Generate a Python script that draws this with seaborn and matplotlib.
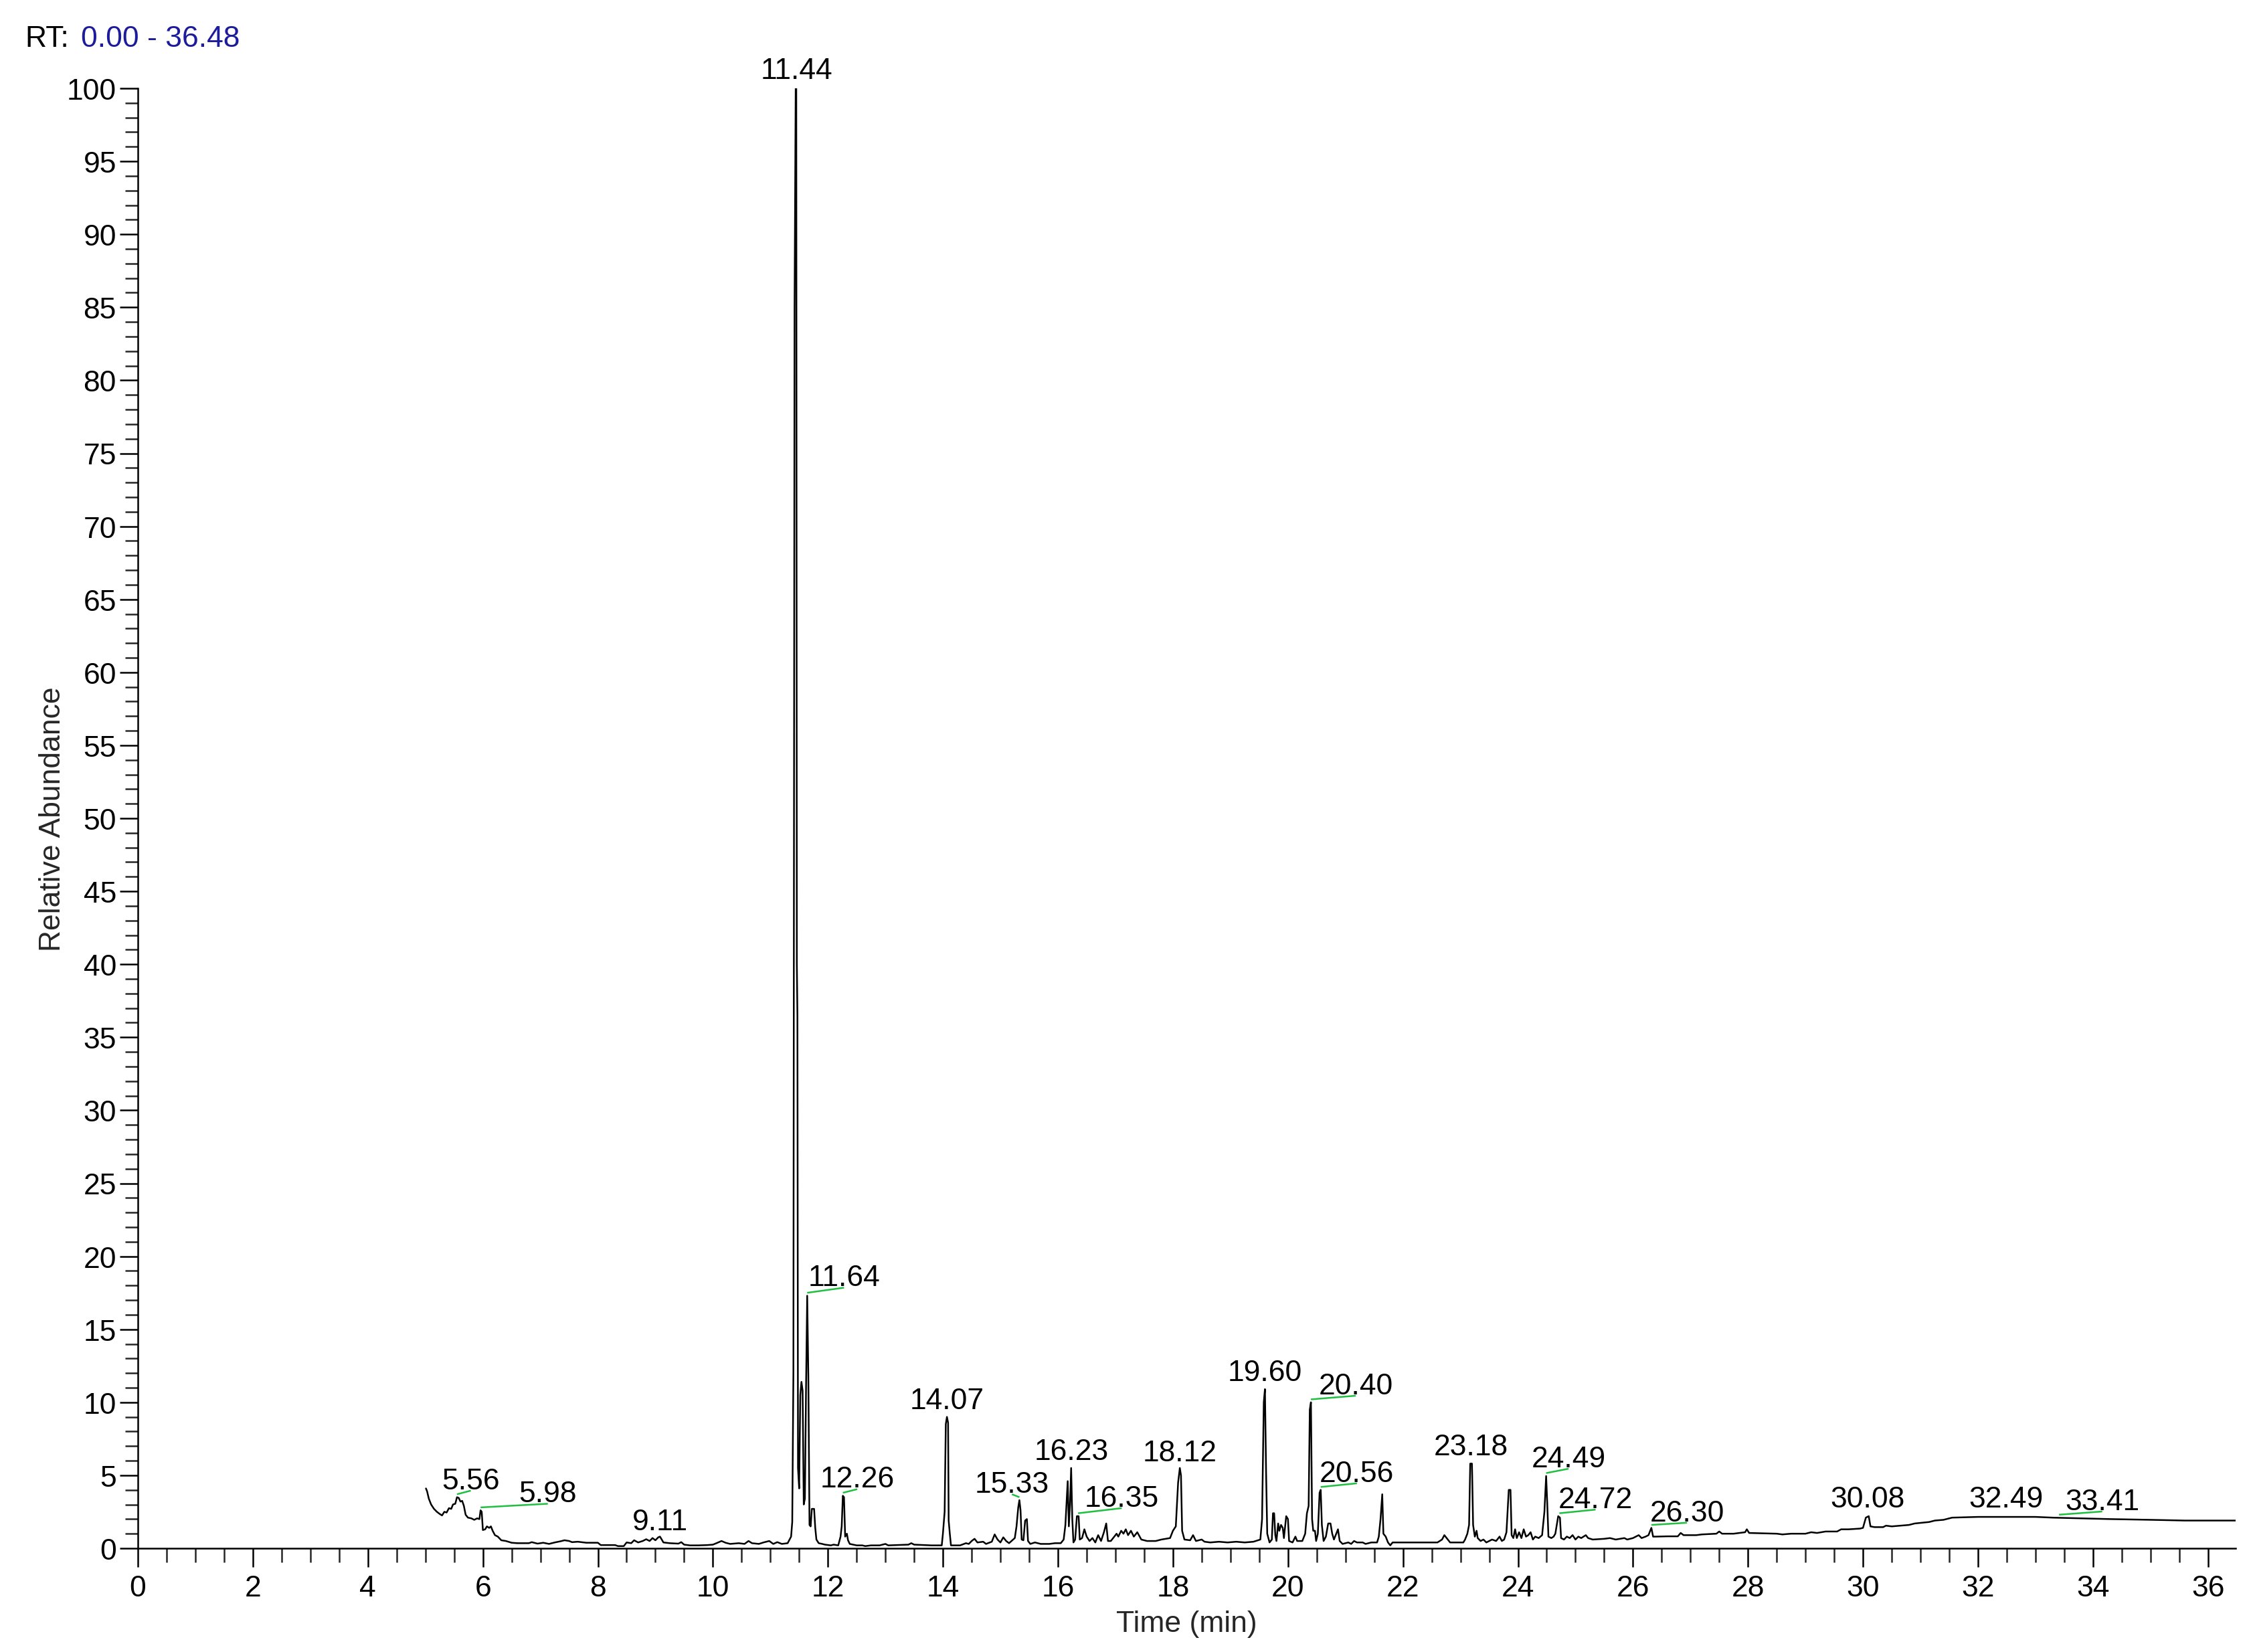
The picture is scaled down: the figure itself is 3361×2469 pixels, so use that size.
import matplotlib
matplotlib.use('Agg')
import matplotlib.pyplot as plt
from matplotlib.ticker import MultipleLocator
import pandas as pd
import seaborn as sns

#===== data =====
rt_min = [
    5.01, 5.03, 5.06, 5.10, 5.15, 5.20, 5.25, 5.29, 5.33, 5.37, 5.41, 5.45, 5.48, 5.52,
    5.55, 5.58, 5.61, 5.64, 5.67, 5.70, 5.74, 5.80, 5.85, 5.90, 5.94, 5.96, 5.98, 6.00,
    6.04, 6.07, 6.11, 6.14, 6.17, 6.21, 6.26, 6.32, 6.40, 6.50, 6.60, 6.80, 6.85, 6.95,
    7.05, 7.15, 7.25, 7.35, 7.42, 7.50, 7.55, 7.65, 7.80, 8.00, 8.05, 8.30, 8.35, 8.45,
    8.50, 8.58, 8.63, 8.70, 8.78, 8.84, 8.90, 8.95, 9.00, 9.05, 9.08, 9.11, 9.14, 9.25,
    9.40, 9.45, 9.50, 9.60, 9.75, 9.90, 10.00, 10.08, 10.15, 10.22, 10.30, 10.45, 10.55,
    10.62, 10.68, 10.80, 10.88, 10.98, 11.05, 11.12, 11.20, 11.30, 11.36, 11.38, 11.40,
    11.42, 11.44, 11.45, 11.46, 11.47, 11.48, 11.50, 11.52, 11.54, 11.56, 11.58, 11.60,
    11.62, 11.64, 11.66, 11.68, 11.70, 11.72, 11.76, 11.78, 11.80, 11.84, 11.90, 11.95,
    12.05, 12.10, 12.18, 12.22, 12.24, 12.26, 12.28, 12.30, 12.33, 12.35, 12.38, 12.50,
    12.60, 12.65, 12.75, 12.90, 13.00, 13.05, 13.40, 13.45, 13.50, 13.80, 13.98, 14.00,
    14.03, 14.05, 14.07, 14.09, 14.10, 14.12, 14.14, 14.30, 14.40, 14.45, 14.50, 14.55,
    14.60, 14.70, 14.75, 14.85, 14.90, 14.95, 15.00, 15.05, 15.10, 15.15, 15.25, 15.28,
    15.31, 15.33, 15.35, 15.37, 15.40, 15.43, 15.46, 15.48, 15.52, 15.60, 15.70, 15.85,
    15.95, 16.05, 16.10, 16.13, 16.17, 16.19, 16.21, 16.23, 16.25, 16.27, 16.30, 16.33,
    16.36, 16.38, 16.42, 16.46, 16.50, 16.55, 16.60, 16.65, 16.70, 16.75, 16.80, 16.84,
    16.87, 16.92, 16.98, 17.02, 17.05, 17.10, 17.14, 17.18, 17.22, 17.27, 17.32, 17.38,
    17.45, 17.55, 17.70, 17.80, 17.95, 18.00, 18.05, 18.09, 18.12, 18.14, 18.16, 18.20,
    18.30, 18.35, 18.40, 18.50, 18.55, 18.65, 18.80, 18.95, 19.10, 19.25, 19.40, 19.52,
    19.55, 19.58, 19.60, 19.62, 19.64, 19.68, 19.72, 19.74, 19.76, 19.78, 19.80, 19.83,
    19.85, 19.88, 19.91, 19.93, 19.97, 20.00, 20.02, 20.08, 20.13, 20.16, 20.25, 20.30,
    20.33, 20.36, 20.38, 20.40, 20.42, 20.44, 20.47, 20.49, 20.52, 20.55, 20.57, 20.59,
    20.62, 20.66, 20.70, 20.74, 20.77, 20.80, 20.84, 20.87, 20.90, 20.95, 21.05, 21.10,
    21.15, 21.20, 21.30, 21.35, 21.45, 21.55, 21.58, 21.61, 21.64, 21.66, 21.70, 21.74,
    21.78, 21.82, 22.00, 22.30, 22.60, 22.68, 22.72, 22.76, 22.82, 23.05, 23.08, 23.12,
    23.15, 23.17, 23.20, 23.22, 23.25, 23.28, 23.30, 23.35, 23.40, 23.45, 23.55, 23.62,
    23.68, 23.72, 23.76, 23.80, 23.84, 23.87, 23.89, 23.92, 23.95, 23.98, 24.02, 24.06,
    24.10, 24.14, 24.18, 24.22, 24.26, 24.30, 24.36, 24.42, 24.46, 24.49, 24.51, 24.53,
    24.58, 24.62, 24.65, 24.70, 24.73, 24.75, 24.80, 24.85, 24.90, 24.95, 25.00, 25.05,
    25.10, 25.18, 25.22, 25.30, 25.50, 25.60, 25.70, 25.85, 25.90, 26.00, 26.10, 26.15,
    26.22, 26.27, 26.32, 26.35, 26.40, 26.60, 26.78, 26.83, 26.88, 27.00, 27.10, 27.20,
    27.45, 27.50, 27.55, 27.75, 27.85, 27.95, 27.98, 28.02, 28.50, 28.60, 28.75, 29.00,
    29.10, 29.20, 29.35, 29.55, 29.62, 29.75, 29.95, 30.00, 30.05, 30.10, 30.13, 30.20,
    30.35, 30.40, 30.50, 30.65, 30.80, 30.90, 31.15, 31.25, 31.40, 31.55, 32.00, 32.50,
    33.00, 33.30, 33.80, 34.30, 35.00, 35.60, 36.48,
]
abundance = [
    4.1, 3.9, 3.4, 3.0, 2.7, 2.5, 2.35, 2.25, 2.5, 2.45, 2.75, 2.7, 3.0, 3.05,
    3.5, 3.45, 3.2, 3.25, 2.9, 2.3, 2.1, 2.05, 1.95, 2.05, 2.0, 2.6, 2.5, 1.25,
    1.3, 1.5, 1.4, 1.5, 1.2, 0.9, 0.8, 0.55, 0.5, 0.38, 0.35, 0.35, 0.42, 0.32,
    0.38, 0.3, 0.4, 0.48, 0.55, 0.5, 0.42, 0.45, 0.38, 0.38, 0.22, 0.22, 0.15, 0.15,
    0.4, 0.35, 0.55, 0.4, 0.5, 0.62, 0.5, 0.7, 0.55, 0.75, 0.8, 0.6, 0.4, 0.35,
    0.32, 0.42, 0.25, 0.2, 0.2, 0.22, 0.25, 0.38, 0.5, 0.38, 0.3, 0.35, 0.3,
    0.5, 0.35, 0.3, 0.4, 0.5, 0.3, 0.42, 0.3, 0.35, 0.8, 1.8, 12.0,
    85.0, 100.0, 100.0, 40.0, 36.5, 5.5, 4.1, 10.5, 11.4, 10.8, 3.0, 3.4,
    11.0, 17.3, 11.7, 1.6, 1.5, 2.7, 2.7, 1.4, 0.6, 0.35, 0.3, 0.25,
    0.2, 0.25, 0.2, 0.8, 1.5, 3.6, 3.5, 0.8, 1.0, 0.55, 0.3, 0.2,
    0.2, 0.15, 0.2, 0.2, 0.3, 0.2, 0.25, 0.35, 0.25, 0.2, 0.2, 1.0,
    2.5, 8.5, 9.0, 8.6, 1.9, 1.0, 0.2, 0.2, 0.35, 0.3, 0.5, 0.65,
    0.4, 0.45, 0.3, 0.45, 0.95, 0.6, 0.4, 0.75, 0.5, 0.35, 0.7, 1.5,
    2.8, 3.3, 2.6, 0.6, 0.55, 1.9, 2.0, 0.5, 0.3, 0.4, 0.3, 0.3,
    0.35, 0.35, 0.6, 1.6, 4.6, 1.5, 3.0, 5.5, 2.0, 0.4, 0.6, 2.2,
    2.2, 0.6, 0.7, 1.3, 0.8, 0.5, 0.7, 0.4, 0.9, 0.5, 1.1, 1.7,
    0.5, 0.5, 0.8, 1.0, 0.8, 1.2, 1.0, 1.3, 0.9, 1.2, 0.8, 1.1,
    0.6, 0.5, 0.5, 0.6, 0.7, 1.2, 1.5, 4.5, 5.5, 5.0, 1.2, 0.6,
    0.55, 0.9, 0.5, 0.6, 0.45, 0.4, 0.45, 0.4, 0.45, 0.4, 0.45, 0.6,
    2.0, 10.0, 10.9, 5.2, 1.0, 0.4, 0.6, 2.4, 2.4, 0.9, 0.5, 1.7,
    1.2, 1.6, 1.4, 0.7, 2.2, 2.0, 0.5, 0.4, 0.8, 0.5, 0.5, 1.0,
    2.4, 2.9, 9.5, 10.0, 2.0, 1.2, 1.2, 0.5, 1.0, 3.8, 4.0, 1.6,
    0.5, 0.8, 1.7, 1.7, 1.0, 0.6, 1.0, 1.3, 0.5, 0.3, 0.4, 0.3,
    0.5, 0.4, 0.4, 0.3, 0.4, 0.4, 0.8, 2.0, 3.7, 1.0, 0.8, 0.4,
    0.2, 0.4, 0.4, 0.4, 0.4, 0.6, 0.9, 0.7, 0.4, 0.4, 0.6, 1.0,
    1.6, 5.8, 5.8, 1.6, 0.8, 1.2, 0.7, 0.5, 0.6, 0.4, 0.6, 0.5,
    0.8, 0.5, 0.6, 1.1, 4.0, 4.0, 0.9, 0.7, 1.3, 0.7, 1.1, 0.7,
    1.3, 0.8, 0.9, 1.1, 0.6, 0.8, 0.7, 0.9, 2.5, 4.95, 3.0, 0.8,
    0.7, 0.8, 1.0, 2.2, 2.1, 0.7, 0.6, 0.8, 0.7, 0.9, 0.6, 0.8,
    0.7, 0.9, 0.7, 0.6, 0.65, 0.7, 0.6, 0.7, 0.6, 0.7, 0.9, 0.7,
    0.8, 0.9, 1.4, 0.8, 0.8, 0.82, 0.82, 1.05, 0.9, 0.9, 0.9, 0.95,
    1.0, 1.15, 1.0, 1.0, 1.05, 1.1, 1.3, 1.05, 1.0, 0.95, 1.0, 1.0,
    1.1, 1.05, 1.15, 1.15, 1.3, 1.3, 1.35, 1.4, 2.1, 2.2, 1.5, 1.45,
    1.45, 1.55, 1.5, 1.55, 1.6, 1.7, 1.8, 1.9, 1.95, 2.1, 2.15, 2.15,
    2.15, 2.1, 2.05, 2.0, 1.95, 1.9, 1.9,
]

# labelled peaks: label text, apex time, apex height
peak_labels = ['5.56', '5.98', '9.11', '11.44', '11.64', '12.26', '14.07', '15.33',
               '16.23', '16.35', '18.12', '19.60', '20.40', '20.56', '23.18', '24.49',
               '24.72', '26.30', '30.08', '32.49', '33.41']
peak_rt = [5.55, 5.96, 9.08, 11.44, 11.64, 12.26, 14.07, 15.33,
           16.23, 16.35, 18.12, 19.60, 20.40, 20.57, 23.18, 24.49,
           24.72, 26.32, 30.08, 32.49, 33.41]
peak_height = [3.5, 2.6, 0.8, 100.0, 17.3, 3.6, 9.0, 3.3,
               5.5, 2.2, 5.5, 10.9, 10.0, 4.0, 5.8, 4.95,
               2.2, 1.4, 2.2, 2.15, 2.1]

# label placement relative to apex (dx in min, dy in %), and whether a green leader is drawn
label_offset = {
    '5.56': (0.24, 0.6, True), '5.98': (1.17, 0.6, True), '9.11': (0.0, 0.5, False),
    '11.44': (0.02, 0.7, False), '11.64': (0.64, 0.7, True), '12.26': (0.25, 0.6, True),
    '14.07': (0.0, 0.6, False), '15.33': (-0.13, 0.55, True), '16.23': (0.0, 0.6, False),
    '16.35': (0.76, 0.7, True), '18.12': (0.0, 0.5, False), '19.60': (0.0, 0.6, False),
    '20.40': (0.78, 0.6, True), '20.56': (0.63, 0.6, True), '23.18': (0.0, 0.6, False),
    '24.49': (0.39, 0.65, True), '24.72': (0.63, 0.6, True), '26.30': (0.62, 0.5, True),
    '30.08': (0.0, 0.65, False), '32.49': (0.0, 0.7, False), '33.41': (0.75, 0.57, True),
}

df = pd.DataFrame({'rt': rt_min, 'abundance': abundance})

#===== style =====
sns.set_style('ticks')
plt.rcParams['font.family'] = ['Liberation Sans', 'DejaVu Sans']
FS = 10.7

fig = plt.figure(figsize=(3361 / 300, 2470 / 300), dpi=300)
ax = fig.add_axes([206 / 3361, 155 / 2470, 3135 / 3361, 2182 / 2470])

sns.lineplot(data=df, x='rt', y='abundance', ax=ax, color='black', linewidth=0.6,
             sort=False, estimator=None)

# peak labels + green leaders
for lab, x, y in zip(peak_labels, peak_rt, peak_height):
    dx, dy, leader = label_offset[lab]
    tx, ty = x + dx, y + dy
    ax.text(tx, ty, lab, ha='center', va='baseline', fontsize=FS, color='black')
    if leader:
        ax.plot([x, tx], [y + 0.2, ty - 0.15], color='#1fbf3f', linewidth=0.6,
                solid_capstyle='butt')

ax.set_xlim(0, 36.48)
ax.set_ylim(0, 100)
ax.xaxis.set_major_locator(MultipleLocator(2))
ax.xaxis.set_minor_locator(MultipleLocator(0.5))
ax.yaxis.set_major_locator(MultipleLocator(5))
ax.yaxis.set_minor_locator(MultipleLocator(1))

ax.tick_params(axis='x', which='major', direction='out', length=6.7, width=0.6,
               pad=2.6, labelsize=FS, colors='black')
ax.tick_params(axis='x', which='minor', direction='out', length=5.0, width=0.6)
ax.tick_params(axis='y', which='major', direction='out', length=6.5, width=0.6,
               pad=1.2, labelsize=FS, colors='black')
ax.tick_params(axis='y', which='minor', direction='out', length=4.6, width=0.6)

sns.despine(ax=ax)
for side in ['left', 'bottom']:
    ax.spines[side].set_linewidth(0.6)
    ax.spines[side].set_color('black')

ax.set_xlabel('Time (min)', fontsize=FS)
ax.set_ylabel('Relative Abundance', fontsize=FS)
ax.xaxis.set_label_coords(0.5, -0.042)
ax.yaxis.set_label_coords(-0.034, 0.5)

# header
fig.text(37 / 3361, 1 - 70 / 2470, 'RT:', fontsize=FS, color='black', va='baseline')
fig.text(121 / 3361, 1 - 70 / 2470, '0.00 - 36.48', fontsize=FS, color='#1c1c9c',
         va='baseline')

fig.savefig('out.png', dpi=300, facecolor='white')
print("Saved: out.png")
